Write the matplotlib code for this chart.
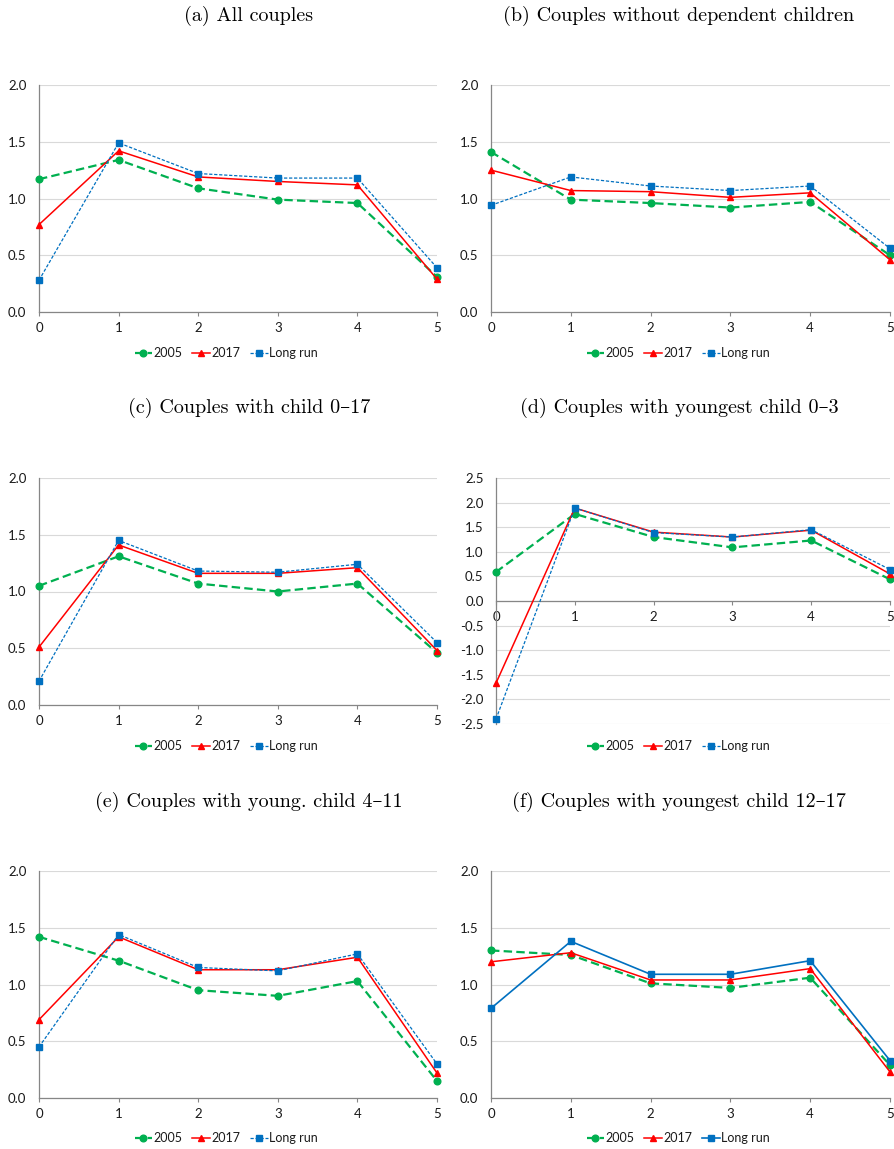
import matplotlib
matplotlib.use('Agg')
import matplotlib.pyplot as plt

# x axis: categories 0..5
x_vals = [0, 1, 2, 3, 4, 5]

titles = ['(a) All couples',
          '(b) Couples without dependent children',
          '(c) Couples with child 0–17',
          '(d) Couples with youngest child 0–3',
          '(e) Couples with young. child 4–11',
          '(f) Couples with youngest child 12–17']

# series values per panel
s2005_a = [1.17, 1.34, 1.09, 0.99, 0.96, 0.31]
s2017_a = [0.77, 1.42, 1.19, 1.15, 1.12, 0.29]
slr_a = [0.28, 1.49, 1.22, 1.18, 1.18, 0.39]

s2005_b = [1.41, 0.99, 0.96, 0.92, 0.97, 0.50]
s2017_b = [1.25, 1.07, 1.06, 1.01, 1.05, 0.46]
slr_b = [0.94, 1.19, 1.11, 1.07, 1.11, 0.56]

s2005_c = [1.05, 1.31, 1.07, 1.00, 1.07, 0.46]
s2017_c = [0.51, 1.41, 1.16, 1.16, 1.21, 0.48]
slr_c = [0.21, 1.45, 1.18, 1.17, 1.24, 0.55]

s2005_d = [0.59, 1.77, 1.30, 1.09, 1.23, 0.44]
s2017_d = [-1.67, 1.89, 1.40, 1.30, 1.44, 0.55]
slr_d = [-2.40, 1.89, 1.39, 1.30, 1.45, 0.64]

s2005_e = [1.42, 1.21, 0.95, 0.90, 1.03, 0.15]
s2017_e = [0.69, 1.42, 1.13, 1.13, 1.24, 0.22]
slr_e = [0.45, 1.44, 1.15, 1.12, 1.27, 0.30]

s2005_f = [1.30, 1.26, 1.01, 0.97, 1.06, 0.29]
s2017_f = [1.20, 1.28, 1.04, 1.04, 1.14, 0.23]
slr_f = [0.79, 1.38, 1.09, 1.09, 1.21, 0.33]

panels = [
    (s2005_a, s2017_a, slr_a),
    (s2005_b, s2017_b, slr_b),
    (s2005_c, s2017_c, slr_c),
    (s2005_d, s2017_d, slr_d),
    (s2005_e, s2017_e, slr_e),
    (s2005_f, s2017_f, slr_f),
]

W, H = 894, 1149
fig = plt.figure(figsize=(W / 100, H / 100), dpi=100)

def px_axes(left, right, top, bottom):
    return [left / W, 1 - bottom / H, (right - left) / W, (bottom - top) / H]

# axes boxes in pixels: left, right, top (ymax), bottom (ymin)
boxes = [
    (39, 437, 85, 312),
    (491, 890, 85, 312),
    (39, 437, 478, 705),
    (496, 890, 478, 724),
    (39, 437, 871, 1098),
    (491, 890, 871, 1098),
]
title_x = [249, 679, 249, 679, 249, 679]
title_y = [16, 16, 408, 408, 802, 802]
legend_y = [353, 353, 746, 746, 1138, 1138]
legend_x = [226, 678, 226, 678, 226, 678]

green = '#00b050'
red = '#ff0000'
blue = '#0070c0'
tick_font = ['Lato', 'DejaVu Sans']
title_font = ['cmr10', 'DejaVu Serif']

for i, (a, b, c) in enumerate(panels):
    l, r, t, bt = boxes[i]
    ax = fig.add_axes(px_axes(l, r, t, bt))
    ax.plot(x_vals, a, color=green, lw=1.6, ls=(0, (3.8, 1.9)),
            marker='o', ms=4.8, label='2005', clip_on=False, zorder=3)
    ax.plot(x_vals, b, color=red, lw=1.1, ls='-',
            marker='^', ms=4.8, label='2017', clip_on=False, zorder=4)
    blue_ls = '-' if i == 5 else (0, (2.6, 1.4))
    blue_lw = 1.2 if i == 5 else 0.9
    ax.plot(x_vals, c, color=blue, lw=blue_lw, ls=blue_ls,
            marker='s', ms=4.6, label='Long run', clip_on=False, zorder=5)

    ax.set_xlim(0, 5)
    if i == 3:
        ax.set_ylim(-2.5, 2.5)
        ax.set_yticks([-2.5, -2.0, -1.5, -1.0, -0.5, 0.0, 0.5, 1.0, 1.5, 2.0, 2.5])
        ax.spines['bottom'].set_position(('data', 0))
    else:
        ax.set_ylim(0, 2.0)
        ax.set_yticks([0.0, 0.5, 1.0, 1.5, 2.0])
    ax.yaxis.set_major_formatter(matplotlib.ticker.FormatStrFormatter('%.1f'))
    ax.set_xticks(x_vals)

    ax.grid(axis='y', color='#d9d9d9', lw=0.8)
    ax.set_axisbelow(True)
    for s in ['top', 'right']:
        ax.spines[s].set_visible(False)
    for s in ['left', 'bottom']:
        ax.spines[s].set_color('#868686')
        ax.spines[s].set_linewidth(0.9)
    ax.tick_params(axis='y', length=0, pad=9, labelsize=9.5, labelcolor='#1a1a1a')
    ax.tick_params(axis='x', length=3, color='#868686', pad=4, labelsize=9.5,
                   labelcolor='#1a1a1a')
    for lab in ax.get_xticklabels() + ax.get_yticklabels():
        lab.set_family(tick_font)

    fig.text(title_x[i] / W, 1 - title_y[i] / H, titles[i], ha='center', va='center',
             fontsize=14.5, family=title_font)

    leg = ax.legend(loc='center', bbox_to_anchor=(legend_x[i] / W, 1 - legend_y[i] / H),
                    bbox_transform=fig.transFigure, ncol=3, frameon=False,
                    handlelength=1.4, handletextpad=0.1, columnspacing=0.8,
                    prop={'family': tick_font, 'size': 9})
    for txt in leg.get_texts():
        txt.set_color('#1a1a1a')

fig.savefig('out.png', dpi=100)
